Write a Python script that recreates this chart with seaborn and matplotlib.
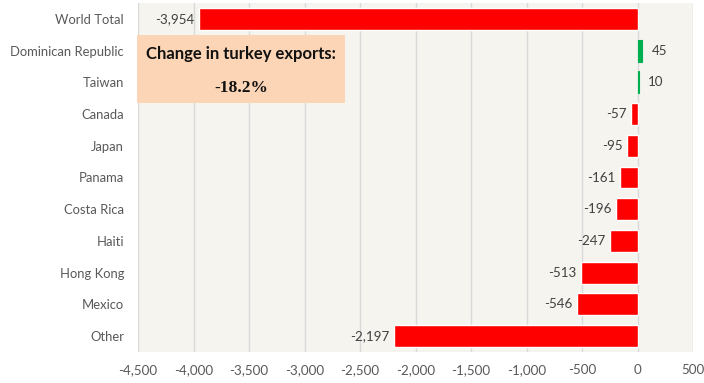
import matplotlib
matplotlib.use("Agg")
import matplotlib.pyplot as plt
import seaborn as sns
import pandas as pd
from matplotlib.patches import Rectangle

countries = ["World Total", "Dominican Republic", "Taiwan", "Canada", "Japan", "Panama",
             "Costa Rica", "Haiti", "Hong Kong", "Mexico", "Other"]
changes = [-3954, 45, 10, -57, -95, -161, -196, -247, -513, -546, -2197]
x_ticks = [-4500, -4000, -3500, -3000, -2500, -2000, -1500, -1000, -500, 0, 500]
box_title = "Change in turkey exports:"
box_value = "-18.2%"

df = pd.DataFrame({"country": countries, "change": changes})
df["sign"] = ["pos" if v > 0 else "neg" for v in changes]

sns.set_theme(style="white")
plt.rcParams["font.family"] = ["Lato", "DejaVu Sans"]

W, H = 704, 383
fig = plt.figure(figsize=(W / 100, H / 100), dpi=100)
L, R, T, B = 138, 693, 3, 352
ax = fig.add_axes([L / W, 1 - B / H, (R - L) / W, (B - T) / H])
ax.set_facecolor("#F5F4EF")

sns.barplot(data=df, x="change", y="country", hue="sign",
            palette={"neg": "#FF0000", "pos": "#00B050"},
            order=countries, orient="h", width=0.69, legend=False,
            saturation=1, ax=ax, zorder=3)

# make the thin positive bars visible like the reference
for p in ax.patches:
    if p.get_width() > 0:
        p.set_edgecolor(p.get_facecolor())
        p.set_linewidth(0.8)

ax.set_xlim(-4500, 500)
ax.set_ylim(len(countries) - 0.5, -0.5)
ax.set_xticks(x_ticks)
ax.set_xticklabels([f"{v:,}" for v in x_ticks], color="#595959", fontsize=9.6)
ax.tick_params(axis="x", pad=9, length=0)
ax.tick_params(axis="y", length=0, pad=10, labelsize=9.4, labelcolor="#595959")
ax.set_xlabel("")
ax.set_ylabel("")
for s in ax.spines.values():
    s.set_visible(False)
ax.grid(axis="x", color="#D9D9D9", linewidth=1, zorder=0)
ax.set_axisbelow(True)

for i, v in enumerate(changes):
    if v < 0:
        ax.text(v - 40, i, f"{v:,}", ha="right", va="center", fontsize=9.6, color="#404040", zorder=5)
    else:
        ax.text(v + 80, i, f"{v:,}", ha="left", va="center", fontsize=9.6, color="#404040", zorder=5)

# annotation box (figure pixel coordinates)
bx0, by0, bx1, by1 = 137, 35, 345, 103
fig.patches.append(Rectangle((bx0 / W, 1 - by1 / H), (bx1 - bx0) / W, (by1 - by0) / H,
                             transform=fig.transFigure, facecolor="#FBD5B5",
                             edgecolor="none", zorder=10))
cx = (bx0 + bx1) / 2 / W
fig.text(cx, 1 - 54 / H, box_title, ha="center", va="center", fontsize=12,
         fontweight="bold", color="#111111", zorder=11)
fig.text(cx, 1 - 88 / H, box_value, ha="center", va="center", fontsize=12.5,
         fontweight="bold", family=["Liberation Serif", "DejaVu Serif"], color="#111111", zorder=11)

fig.savefig("out.png", dpi=100, facecolor="white")
